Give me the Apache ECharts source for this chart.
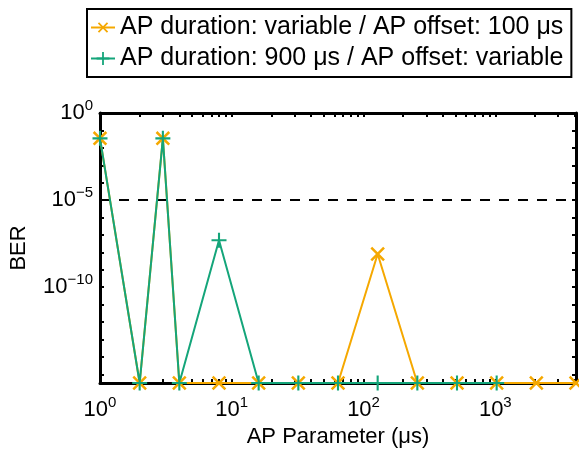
<!DOCTYPE html>
<html>
<head>
<meta charset="utf-8">
<script src="https://cdn.jsdelivr.net/npm/echarts@6/dist/echarts.min.js"></script>
<style>
  html, body { margin: 0; padding: 0; background: #fff; }
  #container { width: 579px; height: 450px; }
</style>
</head>
<body>
<div id="container"></div>
<script>
// data (0 = no bit errors, drawn on the bottom edge)
var xDuration = [1, 2, 3, 4, 8, 16, 32, 64, 128, 256, 512, 1024, 2048, 4096];
var berDuration = [0.035, 0, 0.035, 0, 0, 0, 0, 0, 8e-9, 0, 0, 0, 0, 0];
var xOffset = [1, 2, 3, 4, 8, 16, 32, 64, 128, 256, 512, 1024];
var berOffset = [0.035, 0, 0.035, 0, 5e-8, 0, 0, 0, 0, 0, 0, 0];
var seriesNames = ['AP duration: variable / AP offset: 100 \u03bcs',
                   'AP duration: 900 \u03bcs / AP offset: variable'];
var berLimit = 1e-5;
var xRange = [1, 4096];

var xTicks = [];
[1, 10, 100, 1000].forEach(function (d) {
    for (var k = 1; k <= 9; k++) if (k * d <= 4096) xTicks.push(k * d);
});
var xLabels = [1, 10, 100, 1000];
var yTicks = [];
for (var e = -15; e <= 0; e++) yTicks.push(Math.pow(10, e));
var yLabels = [1e-10, 1e-5, 1];
var yFloor = Math.pow(10, -15.5);

var dom = document.getElementById('container');
var myChart = echarts.init(dom);
var font = 'Liberation Sans, Arial, sans-serif';

function pairs(xs, ys) {
    return xs.map(function (x, i) { return [x, ys[i] === 0 ? yFloor : ys[i]]; });
}
function powLabel(v) {
    var ex = Math.round(Math.log10(v));
    return '{b|10}{s|' + (ex < 0 ? '\u2212' + (-ex) : ex) + '}';
}
var rich = {
    b: { fontSize: 22, fontFamily: font, color: '#000' },
    s: { fontSize: 15, fontFamily: font, color: '#000', padding: [0, 0, 14, 0] }
};
var plusPath = 'path://M4.3,0H5.7V4.3H10V5.7H5.7V10H4.3V5.7H0V4.3H4.3Z';

function xAxisCfg(pos, labels) {
    return {
        type: 'log', logBase: 10, min: xRange[0], max: xRange[1], position: pos,
        name: labels ? 'AP Parameter (\u03bcs)' : '',
        nameLocation: 'middle', nameGap: 43,
        nameTextStyle: { fontSize: 22, fontFamily: font, color: '#000' },
        axisLine: { show: true, onZero: false, lineStyle: { color: '#000', width: 3 } },
        axisTick: { show: true, inside: true, length: 4, customValues: xTicks,
                    lineStyle: { color: '#000', width: 2 } },
        axisLabel: { show: labels, customValues: xLabels, formatter: powLabel, rich: rich, margin: 12 },
        splitLine: { show: false }
    };
}
function yAxisCfg(pos, labels) {
    return {
        type: 'log', logBase: 10, min: yFloor, max: 1, position: pos,
        name: labels ? 'BER' : '',
        nameLocation: 'middle', nameGap: 70,
        nameTextStyle: { fontSize: 22, fontFamily: font, color: '#000' },
        axisLine: { show: true, onZero: false, lineStyle: { color: '#000', width: 3 } },
        axisTick: { show: true, inside: true, length: 4, customValues: yTicks,
                    lineStyle: { color: '#000', width: 2 } },
        axisLabel: { show: labels, customValues: yLabels, formatter: powLabel, rich: rich, margin: 7 },
        splitLine: { show: false }
    };
}

option = {
    animation: false,
    color: ['#f5a800', '#14a57a'],
    textStyle: { fontFamily: font },
    legend: {
        orient: 'vertical',
        left: 87, top: 9,
        padding: [6, 8, 6, 3],
        itemGap: 6,
        itemWidth: 24, itemHeight: 16,
        borderColor: '#000', borderWidth: 2,
        textStyle: { fontSize: 25, fontFamily: font, color: '#000' },
        data: seriesNames
    },
    grid: { left: 100, top: 113, width: 476, height: 270, outerBoundsMode: 'none' },
    xAxis: [xAxisCfg('bottom', true), xAxisCfg('top', false)],
    yAxis: [yAxisCfg('left', true), yAxisCfg('right', false)],
    series: [
        {
            name: seriesNames[0],
            type: 'line',
            data: pairs(xDuration, berDuration),
            symbol: plusPath, symbolSize: 18, symbolRotate: 45,
            lineStyle: { width: 2 },
            clip: false
        },
        {
            name: seriesNames[1],
            type: 'line',
            data: pairs(xOffset, berOffset),
            symbol: plusPath, symbolSize: 15,
            lineStyle: { width: 2 },
            clip: false
        },
        {
            name: 'BER limit',
            type: 'line',
            data: xRange.map(function (x) { return [x, berLimit]; }),
            symbol: 'none',
            silent: true,
            z: 1,
            lineStyle: { color: '#000', width: 2, type: [10, 9] }
        }
    ]
};
if (option && typeof option === "object") {
    myChart.setOption(option, true);
}
</script>
</body>
</html>
